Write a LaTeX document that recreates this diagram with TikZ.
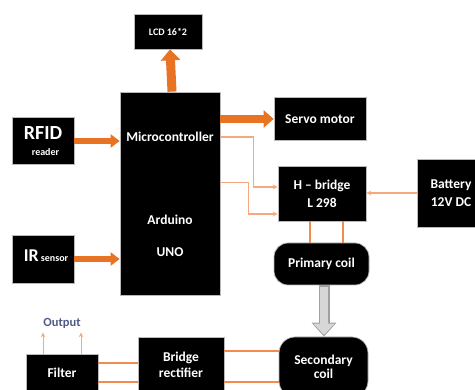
\documentclass[tikz,border=0pt]{standalone}
\usepackage{fontspec}
\setmainfont{Carlito}
\usetikzlibrary{arrows.meta,calc}
\definecolor{org}{RGB}{232,115,35}
\definecolor{morg}{RGB}{240,140,80}
\definecolor{lorg}{RGB}{245,170,125}
\definecolor{gfill}{RGB}{215,215,215}
\definecolor{gline}{RGB}{160,160,160}
\definecolor{outtxt}{RGB}{80,90,135}
\begin{document}
\begin{tikzpicture}[x=1pt,y=-1pt,
  blk/.style={fill=black, draw=gray!55, line width=0.7pt, inner sep=0pt, text=white,
    font=\bfseries\fontsize{13.5}{18}\selectfont, align=center},
  lbl/.style={text=white, inner sep=0pt, font=\bfseries\fontsize{13.5}{16}\selectfont},
  bigarrow/.style={org, line width=6pt, -{Triangle[width=13pt,length=9pt]}},
  thinarrow/.style={lorg, line width=1.1pt, -{Stealth[width=5pt,length=5pt]}},
  wire/.style={morg, line width=2pt}
]
\useasboundingbox (0,0) rectangle (475,390);

% boxes
\node[blk, minimum width=68pt, minimum height=35pt, font=\bfseries\fontsize{10}{12}\selectfont] (lcd) at (168,31.5) {LCD 16*2};
\node[blk, minimum width=100pt, minimum height=203pt] (mc) at (170,193.5) {};
\node[lbl] (mct) at (170,137) {Microcontroller};
\node[lbl] (ard) at (170,220) {Arduino};
\node[lbl] (uno) at (170,252) {UNO};
\node[blk, minimum width=62pt, minimum height=47pt] (rfid) at (43,141) {};
\node[lbl, font=\bfseries\fontsize{20}{22}\selectfont] (rfidt) at (43,133) {RFID};
\node[lbl, font=\bfseries\fontsize{10}{12}\selectfont] (rdr) at (45.5,152) {reader};
\node[blk, minimum width=62pt, minimum height=48pt] (ir) at (43,259) {};
\node[lbl, anchor=base] (irt) at (46,262) {{\fontsize{18}{20}\selectfont IR}\,{\fontsize{10}{12}\selectfont sensor}};
\node[blk, minimum width=92pt, minimum height=43pt] (servo) at (320,119) {Servo motor};
\node[blk, minimum width=88pt, minimum height=55pt] (hb) at (322,193.5) {H -- bridge\\L 298};
\node[blk, minimum width=68pt, minimum height=68pt] (batt) at (451,193) {Battery\\12V DC};
\node[blk, rounded corners=14pt, minimum width=95pt, minimum height=42pt] (prim) at (321.5,264) {Primary coil};
\node[blk, rounded corners=16pt, minimum width=89pt, minimum height=60pt, font=\bfseries\fontsize{13.5}{14.5}\selectfont] (sec) at (323.5,367) {Secondary\\coil};
\node[blk, minimum width=86pt, minimum height=56pt, font=\bfseries\fontsize{13.5}{16}\selectfont] (br) at (181,365) {Bridge\\rectifier};
\node[blk, minimum width=72pt, minimum height=38pt] (filt) at (62,373) {Filter};
\node[text=outtxt, inner sep=0pt, font=\bfseries\fontsize{12.5}{14}\selectfont] (outp) at (62,323) {Output};

% thick arrows
\draw[org, line width=9pt, -{Triangle[width=19pt,length=11pt]}] ([xshift=2pt]mc.north) -- ([xshift=2pt]lcd.south);
\draw[bigarrow] (rfid.east) -- (rfid.east -| mc.west);
\draw[bigarrow] (ir.east) -- (ir.east -| mc.west);
\draw[org, line width=8pt, -{Triangle[width=17pt,length=10pt]}] (servo.west -| mc.east) -- (servo.west);

% thin control lines
\coordinate (m2) at ($(mc.east)+(0,-11)$);
\coordinate (h1) at ($(hb.west)+(0,-6.5)$);
\coordinate (h2) at ($(hb.west)+(0,20.5)$);
\draw[thinarrow] (mct -| mc.east) -- ++(33,0) |- (h1);
\draw[thinarrow] (m2) -- ++(28,0) |- (h2);
\draw[thinarrow] (batt.west) -- (batt.west -| hb.east);

% H-bridge to primary
\coordinate (p1) at ($(hb.south)+(-12,0)$);
\coordinate (p2) at ($(hb.south)+(21,0)$);
\draw[wire] (p1) -- (p1 |- prim.north);
\draw[wire] (p2) -- (p2 |- prim.north);

% coupling arrow
\coordinate (g1) at ($(prim.south)+(2.5,0)$);
\draw[gline, line width=11pt, -{Triangle[width=24pt,length=14pt]}] (g1) -- (g1 |- sec.north);
\draw[gfill, line width=8.6pt, shorten <=1.2pt, shorten >=1.6pt, -{Triangle[width=20.5pt,length=11.5pt]}] (g1) -- (g1 |- sec.north);

% rectifier wires
\coordinate (b1) at ($(br.east)+(0,-14)$);
\coordinate (b2) at ($(br.east)+(0,17)$);
\draw[wire] (b1) -- (b1 -| sec.west);
\draw[wire] (b2) -- (b2 -| sec.west);
\coordinate (f1) at ($(filt.east)+(0,-10)$);
\coordinate (f2) at ($(filt.east)+(0,9)$);
\draw[wire] (f1) -- (f1 -| br.west);
\draw[wire] (f2) -- (f2 -| br.west);

% outputs
\coordinate (o1) at ($(filt.north)+(-19,0)$);
\coordinate (o2) at ($(filt.north)+(19,0)$);
\draw[lorg, line width=1pt, -{Stealth[width=4.5pt,length=4.5pt]}] (o1) -- ++(0,-21);
\draw[lorg, line width=1pt, -{Stealth[width=4.5pt,length=4.5pt]}] (o2) -- ++(0,-21);
\end{tikzpicture}
\end{document}
